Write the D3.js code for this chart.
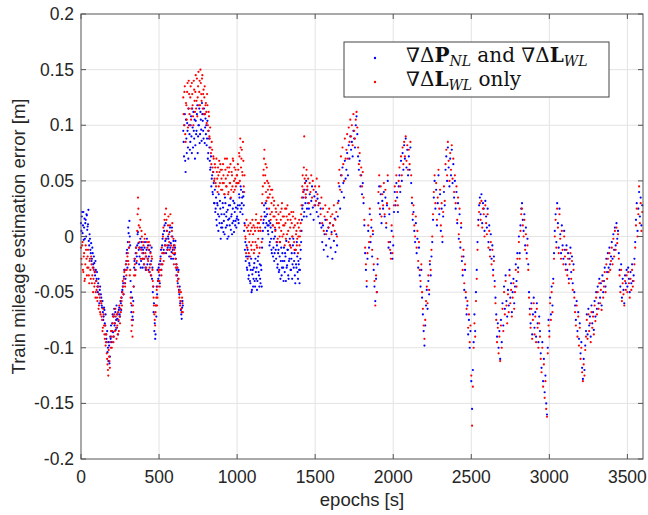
<!DOCTYPE html>
<html>
<head>
<meta charset="utf-8">
<script src="https://cdn.jsdelivr.net/npm/d3@7"></script>
<style>
  body { margin: 0; background: #fff; }
</style>
</head>
<body>
<div class="chart"></div>
<script>
// epochs sampled every 5 s, plus half-step samples in the first 1450 s
const epochs = d3.range(0, 3600, 5);
const midEpochs = d3.range(2.5, 1450, 5);

// error values in millimetres, one row per 100 s
const blueMm = [
  12,18,3,22,8,-2,15,20,6,11,-4,2,-12,-6,-20,-15,-28,-24,-35,-30,
  -38,-45,-42,-52,-48,-58,-55,-64,-68,-72,-66,-80,-88,-95,-104,-112,-98,-108,-92,-85,
  -78,-86,-72,-80,-68,-75,-82,-70,-76,-64,-72,-60,-55,-48,-42,-36,-30,-38,-22,-12,
  -5,3,14,-8,-50,-62,-72,-58,-28,-20,-15,-24,-8,4,-12,-18,-2,-22,-10,-28,
  -15,-20,-5,-30,-12,-25,-8,-18,-32,-14,-22,-38,-50,-68,-85,-92,-62,-45,-30,-38,
  -25,-42,-18,-30,-8,2,-12,10,-4,-15,5,-10,-2,-18,8,-6,-14,0,-20,-8,
  -16,-4,-25,-35,-42,-30,-52,-60,-66,-74,-58,95,72,110,58,88,102,80,115,92,
  85,108,75,98,112,88,70,104,95,118,90,100,84,112,96,120,104,88,110,98,
  92,82,104,75,88,68,62,45,55,38,48,30,22,35,10,28,5,18,32,-2,
  20,8,26,14,2,30,18,10,24,0,16,28,6,20,12,32,4,22,14,8,
  18,28,12,35,22,42,30,20,36,5,-12,-22,-8,-30,-18,-35,-26,-42,-20,-48,
  -30,-38,-24,-45,-32,-28,-40,-18,-35,-25,-42,-30,-10,5,15,22,8,18,25,10,
  2,14,-5,8,-12,4,-18,-2,-15,6,-20,-8,-25,-12,-30,-5,-22,-35,-15,-28,
  -10,-32,-18,-4,-26,-12,-38,-20,-8,-30,-15,-25,-2,-22,-35,-12,-28,-18,-38,-25,
  -42,-20,-5,15,28,40,22,48,35,18,42,30,25,38,20,32,45,26,15,36,
  28,40,22,34,18,30,12,25,8,-5,10,-12,2,15,-8,5,-18,8,-2,12,
  -10,4,-20,10,-4,16,-14,2,-8,18,32,45,25,55,40,62,48,35,68,52,
  60,75,55,82,70,90,78,85,72,95,88,80,100,108,92,72,60,68,45,55,
  38,48,30,10,-15,-30,-45,-20,5,-10,20,-5,8,-18,2,-30,-45,-58,-38,-50,
  -25,30,45,20,38,12,32,25,40,18,35,8,28,50,-10,20,-5,-15,5,-20,
  -8,22,40,28,48,35,22,45,55,40,68,50,75,60,82,70,88,62,78,55,
  72,60,80,48,30,15,22,5,-5,12,-15,-2,-28,-10,-35,-45,-30,-55,-70,-85,
  -98,-80,-62,-48,-65,-40,-52,-25,-35,-18,-5,15,35,50,25,42,10,30,55,20,
  38,5,25,-5,18,40,28,60,72,50,80,62,45,70,55,78,48,65,35,50,
  25,40,12,30,-2,20,-10,8,-22,-35,-18,-48,-30,-55,-70,-62,-88,-75,-100,-85,
  -130,-155,-120,-95,-70,-85,-50,-30,-5,15,28,35,20,38,12,30,25,5,32,18,
  8,25,-5,10,-12,2,-20,-8,-30,-18,-40,-55,-70,-90,-78,-100,-85,-110,-75,-95,
  -60,-80,-45,-65,-35,-58,-72,-48,-62,-30,-55,-42,-68,-50,-38,-60,-45,-25,-40,-15,
  -28,0,-15,10,25,30,15,5,20,-8,8,-15,-2,-25,-50,-65,-78,-60,-88,-70,
  -55,-82,-68,-90,-60,-78,-95,-72,-85,-105,-118,-95,-130,-110,-140,-125,-150,-160,-100,-75,
  -85,-55,-70,-45,-62,-38,-15,5,20,-5,30,12,-10,25,2,-15,10,-8,-20,5,
  -12,-25,-8,-30,-15,-38,-20,-10,-32,-18,-42,-25,-50,-62,-75,-58,-85,-68,-92,-78,
  -105,-95,-118,-128,-110,-120,-98,-85,-70,-88,-65,-80,-72,-90,-62,-78,-68,-84,-58,-72,
  -50,-65,-45,-60,-38,-55,-42,-62,-35,-50,-40,-28,-45,-20,-32,-15,-28,-10,-25,-18,
  -5,-20,2,-12,8,-8,12,-2,5,-15,-30,-45,-25,-55,-38,-48,-60,-35,-42,-30,
  -45,-28,-38,-50,-32,-42,-25,-40,-35,-20,-5,15,30,5,25,40,18,35,10,28
];

const redMm = [
  -10,-25,-5,-32,-15,-38,-8,-20,-28,-12,-35,-22,-30,-18,-42,-28,-38,-45,-32,-50,
  -48,-58,-45,-62,-55,-70,-60,-75,-82,-70,-88,-80,-95,-105,-115,-125,-108,-118,-100,-90,
  -85,-72,-90,-78,-65,-82,-70,-88,-75,-62,-78,-68,-58,-50,-45,-38,-42,-30,-35,-22,
  -15,-25,-5,-30,-60,-75,-90,-68,-35,-25,-30,-15,5,35,10,-5,15,-12,0,-20,
  -8,-25,2,-18,-30,-10,-22,-5,-28,-15,-35,-20,-40,-55,-70,-80,-62,-48,-55,-40,
  -30,-45,-20,-35,-15,0,-22,15,-8,25,5,-12,18,-5,10,-18,0,12,-10,-25,
  -8,-20,-35,-28,-45,-38,-55,-62,-50,-68,-60,125,100,135,85,118,130,98,140,110,
  125,105,138,118,100,132,112,145,122,108,135,118,140,150,128,142,115,132,125,110,
  120,102,118,95,108,88,80,65,78,58,70,52,62,45,58,40,55,68,48,60,
  52,42,65,48,38,60,45,70,55,40,62,48,35,58,45,68,50,42,60,48,
  55,65,48,72,88,62,78,55,68,40,10,-2,15,-10,5,-15,2,12,-8,8,
  -5,10,-12,5,15,-8,8,-2,12,-10,5,18,30,45,60,78,55,40,62,35,
  48,25,38,15,30,42,10,28,18,5,22,12,-2,20,8,-5,15,25,0,10,
  18,-8,12,25,2,15,-5,20,8,-10,12,0,22,-5,10,-12,5,-2,-15,8,
  -8,5,20,35,55,42,90,48,38,60,45,52,30,48,40,55,35,50,42,28,
  45,32,52,38,28,45,30,20,35,12,25,5,18,28,2,15,22,8,25,12,
  18,2,20,10,28,5,15,22,0,30,48,60,42,72,55,80,65,50,88,70,
  78,92,70,98,85,105,90,100,82,110,95,88,105,112,98,80,65,75,55,62,
  45,58,35,15,-10,-25,-40,-15,10,-5,25,0,15,-12,5,-25,-40,-62,-35,-50,
  -20,40,55,25,45,18,38,28,48,20,42,12,30,55,-5,25,-12,-20,10,-15,
  0,28,45,32,55,40,28,50,62,45,72,55,80,65,85,72,90,68,82,60,
  78,65,85,55,35,20,28,10,0,18,-10,5,-22,-5,-30,-40,-25,-50,-65,-80,
  -92,-75,-58,-45,-60,-35,-48,-22,-30,-12,0,20,40,55,30,48,15,35,60,25,
  42,10,30,0,22,45,32,65,78,55,85,68,50,75,60,82,52,70,40,55,
  30,45,15,35,2,25,-5,12,-18,-30,-12,-42,-25,-50,-65,-58,-82,-70,-95,-80,
  -125,-170,-135,-100,-78,-90,-58,-38,-12,10,22,30,15,32,8,25,20,0,28,12,
  2,20,-10,5,-18,-5,-25,-12,-35,-22,-45,-60,-75,-95,-82,-105,-90,-112,-80,-100,
  -65,-85,-50,-70,-40,-62,-78,-52,-68,-35,-60,-48,-72,-55,-42,-65,-50,-30,-45,-20,
  -32,-5,-20,5,20,25,10,0,15,-12,2,-20,-8,-30,-55,-70,-82,-65,-92,-75,
  -60,-88,-72,-95,-65,-82,-100,-78,-90,-110,-122,-100,-135,-115,-145,-130,-155,-162,-105,-80,
  -90,-60,-75,-50,-68,-42,-20,0,15,-10,25,8,-15,20,-2,-20,5,-12,-25,0,
  -18,-30,-12,-35,-20,-42,-25,-15,-38,-22,-48,-30,-55,-68,-80,-62,-90,-72,-98,-82,
  -110,-100,-122,-130,-115,-125,-102,-90,-75,-92,-70,-85,-78,-95,-68,-82,-72,-88,-62,-76,
  -55,-70,-50,-65,-42,-60,-48,-66,-40,-55,-45,-32,-50,-25,-38,-20,-32,-15,-30,-22,
  -10,-25,-2,-18,5,-12,8,-6,2,-20,-35,-50,-30,-58,-42,-52,-62,-40,-48,-35,
  -50,-32,-42,-55,-38,-48,-30,-45,-40,-25,-10,10,25,0,20,45,12,30,5,22
];

// half-step samples (mm) for 2.5 .. 1447.5 s
const blueMidMm = [
  5,22,10,-3,16,12,0,19,9,24,-8,-2,-15,-22,-10,-25,-18,-32,-22,-40,
  -32,-50,-38,-60,-45,-52,-62,-58,-75,-64,-78,-70,-92,-85,-100,-95,-114,-90,-80,-95,
  -70,-90,-65,-78,-84,-62,-74,-88,-66,-70,-58,-66,-50,-45,-52,-30,-42,-25,-15,-28,
  8,-10,0,-40,-68,-55,-75,-45,-22,-30,-10,-18,2,-6,-25,-10,-28,-5,-20,-12,
  -25,-10,-28,-18,-2,-20,-30,-12,-25,-35,-10,-28,-45,-60,-78,-88,-72,-52,-40,-28,
  -35,-22,-12,-25,-2,-15,5,-8,12,-2,-12,0,-8,4,-10,-20,8,-12,-4,-16,
  -10,-20,-30,-28,-38,-48,-45,-58,-70,-64,-62,85,100,68,105,75,95,70,100,78,
  100,90,115,80,95,105,82,92,110,75,100,115,92,105,86,110,95,115,84,106,
  100,88,70,95,80,60,72,52,40,58,30,42,25,15,30,20,38,12,25,8,
  12,30,4,20,35,8,22,-2,15,28,10,34,18,2,25,14,30,10,26,16,
  25,15,38,28,45,25,35,40,28,12,-5,-18,-28,-12,-38,-24,-40,-30,-50,-34,
  -45,-28,-40,-20,-38,-48,-22,-32,-45,-38,-26,-45,-2,12,28,18,30,12,20,5,
  10,-8,12,-2,-15,10,-10,-22,0,-12,-5,-28,-15,-32,-18,-38,-10,-28,-22,-40,
  -22,-15,-40,-28,-12,-35,-22,-2,-30,-20,-38,-8,-28,-15,-42,-25,-5,-32,-22,-30,
  -30,-12,5,25,35,18,42,30,50,25
];

const redMidMm = [
  -20,-8,-30,-18,-40,-25,-12,-35,-18,-28,-42,-20,-38,-25,-35,-50,-30,-42,-55,-40,
  -55,-45,-65,-52,-68,-58,-72,-85,-65,-80,-92,-98,-88,-110,-120,-102,-112,-95,-85,-100,
  -78,-95,-70,-85,-72,-92,-80,-68,-85,-72,-65,-55,-62,-40,-52,-32,-45,-25,-30,-18,
  -22,-10,-35,-55,-85,-80,-62,-45,-20,-35,-10,-22,20,25,-10,8,-20,5,-15,-5,
  -20,-2,-15,-28,-5,-20,-12,-32,-8,-25,-18,-30,-45,-62,-75,-68,-55,-62,-45,-32,
  -40,-25,-30,-10,-25,8,-15,20,-2,15,-8,10,2,-12,20,-8,5,-15,-2,-12,
  -15,-28,-25,-40,-32,-50,-48,-58,-65,-55,-68,110,130,92,120,105,138,115,128,100,
  135,115,128,108,140,122,130,115,142,125,148,130,118,138,122,145,128,110,135,118,
  112,128,100,112,90,98,75,85,62,72,50,65,48,70,52,62,45,58,65,42,
  60,48,55,38,70,52,45,62,38,58,48,65,42,55,70,40,62,52,45,55,
  48,60,75,50,80,70,58,85,45,55,0,-15,8,-20,10,-5,-18,5,-12,15,
  2,-15,8,-5,20,-10,12,5,-15,8,15,-5,38,55,70,48,65,32,50,42,
  35,45,20,42,22,35,18,32,8,25,15,-5,28,12,0,22,5,30,18,2,
  10,25,-2,18,28,5,20,-8,15,22,0,18,8,-12,16,2,-8,12,0,15,
  0,12,28,45,40,62,52,35,55,42
];

const xTicks = [0, 500, 1000, 1500, 2000, 2500, 3000, 3500];
const yTicks = [-0.2, -0.15, -0.1, -0.05, 0, 0.05, 0.1, 0.15, 0.2];
const yTickLabels = ['-0.2', '-0.15', '-0.1', '-0.05', '0', '0.05', '0.1', '0.15', '0.2'];

const width = 648, height = 515;
const margin = {top: 14, right: 5, bottom: 56, left: 81};
const plotW = width - margin.left - margin.right;
const plotH = height - margin.top - margin.bottom;

const svg = d3.select('.chart')
    .append('svg')
    .attr('width', width)
    .attr('height', height)
    .style('font-family', 'Liberation Sans, Arial, sans-serif');

const g = svg.append('g')
    .attr('transform', `translate(${margin.left},${margin.top})`);

const xScale = d3.scaleLinear().domain([0, 3600]).range([0, plotW]);
const yScale = d3.scaleLinear().domain([-0.2, 0.2]).range([plotH, 0]);

// grid
g.append('g').selectAll('line')
    .data(xTicks.slice(1))
    .enter().append('line')
    .attr('x1', d => xScale(d)).attr('x2', d => xScale(d))
    .attr('y1', 0).attr('y2', plotH)
    .attr('stroke', '#e3e3e3');
g.append('g').selectAll('line')
    .data(yTicks.slice(1, -1))
    .enter().append('line')
    .attr('x1', 0).attr('x2', plotW)
    .attr('y1', d => yScale(d)).attr('y2', d => yScale(d))
    .attr('stroke', '#e3e3e3');

// points: blue first, red on top
const toPoints = (ep, vals) => ep.map((e, i) => ({e: e, v: vals[i] / 1000})).filter(d => !isNaN(d.v));
const blueData = toPoints(epochs, blueMm).concat(toPoints(midEpochs, blueMidMm));
const redData = toPoints(epochs, redMm).concat(toPoints(midEpochs, redMidMm));

g.append('g').selectAll('circle')
    .data(blueData)
    .enter().append('circle')
    .attr('cx', d => xScale(d.e))
    .attr('cy', d => yScale(d.v))
    .attr('r', 1.1)
    .attr('fill', '#0000ff');

g.append('g').selectAll('circle')
    .data(redData)
    .enter().append('circle')
    .attr('cx', d => xScale(d.e))
    .attr('cy', d => yScale(d.v))
    .attr('r', 1.1)
    .attr('fill', '#ff0000');

// box
g.append('rect')
    .attr('width', plotW).attr('height', plotH)
    .attr('fill', 'none')
    .attr('stroke', '#555')
    .attr('stroke-width', 1);

// inward ticks on all four sides
const tk = 5;
g.append('g').selectAll('line')
    .data(xTicks)
    .enter().append('line')
    .attr('x1', d => xScale(d)).attr('x2', d => xScale(d))
    .attr('y1', plotH).attr('y2', plotH - tk)
    .attr('stroke', '#555');
g.append('g').selectAll('line')
    .data(xTicks)
    .enter().append('line')
    .attr('x1', d => xScale(d)).attr('x2', d => xScale(d))
    .attr('y1', 0).attr('y2', tk)
    .attr('stroke', '#555');
g.append('g').selectAll('line')
    .data(yTicks)
    .enter().append('line')
    .attr('x1', 0).attr('x2', tk)
    .attr('y1', d => yScale(d)).attr('y2', d => yScale(d))
    .attr('stroke', '#555');
g.append('g').selectAll('line')
    .data(yTicks)
    .enter().append('line')
    .attr('x1', plotW).attr('x2', plotW - tk)
    .attr('y1', d => yScale(d)).attr('y2', d => yScale(d))
    .attr('stroke', '#555');

// tick labels
g.append('g').selectAll('text')
    .data(xTicks)
    .enter().append('text')
    .attr('x', d => xScale(d))
    .attr('y', plotH + 24)
    .attr('text-anchor', 'middle')
    .attr('font-size', 17.5)
    .attr('fill', '#262626')
    .text(d => d);

g.append('g').selectAll('text')
    .data(yTicks)
    .enter().append('text')
    .attr('x', -7)
    .attr('y', d => yScale(d) + 6)
    .attr('text-anchor', 'end')
    .attr('font-size', 17.5)
    .attr('fill', '#262626')
    .text((d, i) => yTickLabels[i]);

// axis labels
g.append('text')
    .attr('x', plotW / 2)
    .attr('y', plotH + 47)
    .attr('text-anchor', 'middle')
    .attr('font-size', 18.5)
    .attr('fill', '#262626')
    .text('epochs [s]');

g.append('text')
    .attr('transform', `translate(${-56},${plotH / 2}) rotate(-90)`)
    .attr('text-anchor', 'middle')
    .attr('font-size', 18.5)
    .attr('fill', '#262626')
    .text('Train mileage estimation error [m]');

// legend
const lg = svg.append('g').attr('transform', 'translate(344,42)');
lg.append('rect')
    .attr('width', 265).attr('height', 55)
    .attr('fill', '#fff')
    .attr('stroke', '#444');

const legendItems = [
  {color: '#0000ff', y: 20, parts: [['∇Δ', ''], ['P', 'b'], ['NL', 's'], [' and ∇Δ', ''], ['L', 'b'], ['WL', 's']]},
  {color: '#ff0000', y: 44, parts: [['∇Δ', ''], ['L', 'b'], ['WL', 's'], [' only', '']]}
];

legendItems.forEach(item => {
  lg.append('circle')
    .attr('cx', 31).attr('cy', item.y - 4)
    .attr('r', 1.2)
    .attr('fill', item.color);
  const t = lg.append('text')
    .attr('x', 62).attr('y', item.y)
    .attr('font-family', 'DejaVu Serif, Liberation Serif, serif')
    .attr('font-size', 20)
    .attr('fill', '#111');
  let sub = false;
  item.parts.forEach(p => {
    const s = t.append('tspan').text(p[0]);
    if (p[1] === 'b') s.attr('font-weight', 'bold');
    if (p[1] === 's') {
      s.attr('font-style', 'italic').attr('font-size', 14).attr('dy', 4);
      sub = true;
    } else if (sub) {
      s.attr('dy', -4);
      sub = false;
    }
  });
});
</script>
</body>
</html>
